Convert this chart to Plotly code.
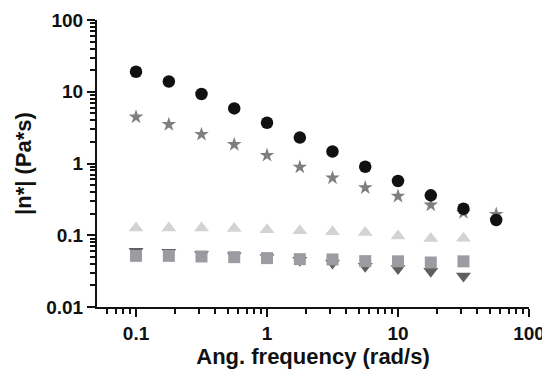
import plotly.graph_objects as go

freq = [0.1, 0.178, 0.316, 0.562, 1.0, 1.78, 3.16, 5.62, 10.0, 17.8, 31.6, 56.2]
circle_vals = [19.0, 13.9, 9.3, 5.86, 3.7, 2.3, 1.47, 0.9, 0.57, 0.36, 0.234, 0.163]
star_vals = [4.45, 3.5, 2.55, 1.84, 1.3, 0.89, 0.63, 0.46, 0.35, 0.264, 0.207, 0.196]
freq11 = freq[:11]
tri_up_vals = [0.126, 0.126, 0.126, 0.124, 0.119, 0.116, 0.112, 0.109, 0.098, 0.090, 0.091]
square_vals = [0.0516, 0.0516, 0.0506, 0.0495, 0.048, 0.0464, 0.046, 0.0436, 0.0433, 0.0417, 0.0433]
tri_down_vals = [0.060, 0.058, 0.054, 0.052, 0.049, 0.045, 0.041, 0.037, 0.0343, 0.0316, 0.027]

x_ticks = [0.1, 1, 10, 100]
x_labels = ["0.1", "1", "10", "100"]
y_ticks = [0.01, 0.1, 1, 10, 100]
y_labels = ["0.01", "0.1", "1", "10", "100"]

fig = go.Figure()
fig.add_trace(go.Scatter(x=freq11, y=tri_down_vals, mode="markers",
                         marker=dict(symbol="triangle-down", size=13, color="#5f5f5f")))
fig.add_trace(go.Scatter(x=freq11, y=square_vals, mode="markers",
                         marker=dict(symbol="square", size=12, color="#9a9ca1")))
fig.add_trace(go.Scatter(x=freq11, y=tri_up_vals, mode="markers",
                         marker=dict(symbol="triangle-up", size=13, color="#d3d3d3")))
fig.add_trace(go.Scatter(x=freq, y=star_vals, mode="markers",
                         marker=dict(symbol="star", size=11, color="#7f7f7f")))
fig.add_trace(go.Scatter(x=freq, y=circle_vals, mode="markers",
                         marker=dict(symbol="circle", size=12.5, color="#111111")))

font_family = "Liberation Sans, Arial, sans-serif"
# the page adds an 8px body margin, so the figure is sized to fit inside the window
fig.update_layout(
    width=542, height=371,
    margin=dict(l=89, r=21, t=12, b=72),
    plot_bgcolor="white", paper_bgcolor="white",
    showlegend=False,
    font=dict(family=font_family, color="#111111"),
)
fig.update_xaxes(
    type="log", range=[-1.298, 2.0], automargin=False,
    tickvals=x_ticks, ticktext=x_labels,
    ticks="outside", ticklen=8, tickwidth=2, tickcolor="#111111",
    showline=True, linewidth=2, linecolor="#111111",
    showgrid=False, zeroline=False,
    minor=dict(dtick="D1", ticks="outside", ticklen=5, tickwidth=1.5, tickcolor="#111111", showgrid=False),
    tickfont=dict(size=19, weight="bold", family=font_family),
    title=dict(text="Ang. frequency (rad/s)", font=dict(size=22, weight="bold", family=font_family), standoff=6),
)
fig.update_yaxes(
    type="log", range=[-2, 2], automargin=False,
    tickvals=y_ticks, ticktext=y_labels,
    ticks="outside", ticklen=8, tickwidth=2, tickcolor="#111111",
    showline=True, linewidth=2, linecolor="#111111",
    showgrid=False, zeroline=False,
    minor=dict(dtick="D1", ticks="outside", ticklen=5, tickwidth=1.5, tickcolor="#111111", showgrid=False),
    tickfont=dict(size=19, weight="bold", family=font_family),
    title=dict(text="|n*| (Pa*s)", font=dict(size=22, weight="bold", family=font_family), standoff=9),
)
fig.write_html("out.html")
